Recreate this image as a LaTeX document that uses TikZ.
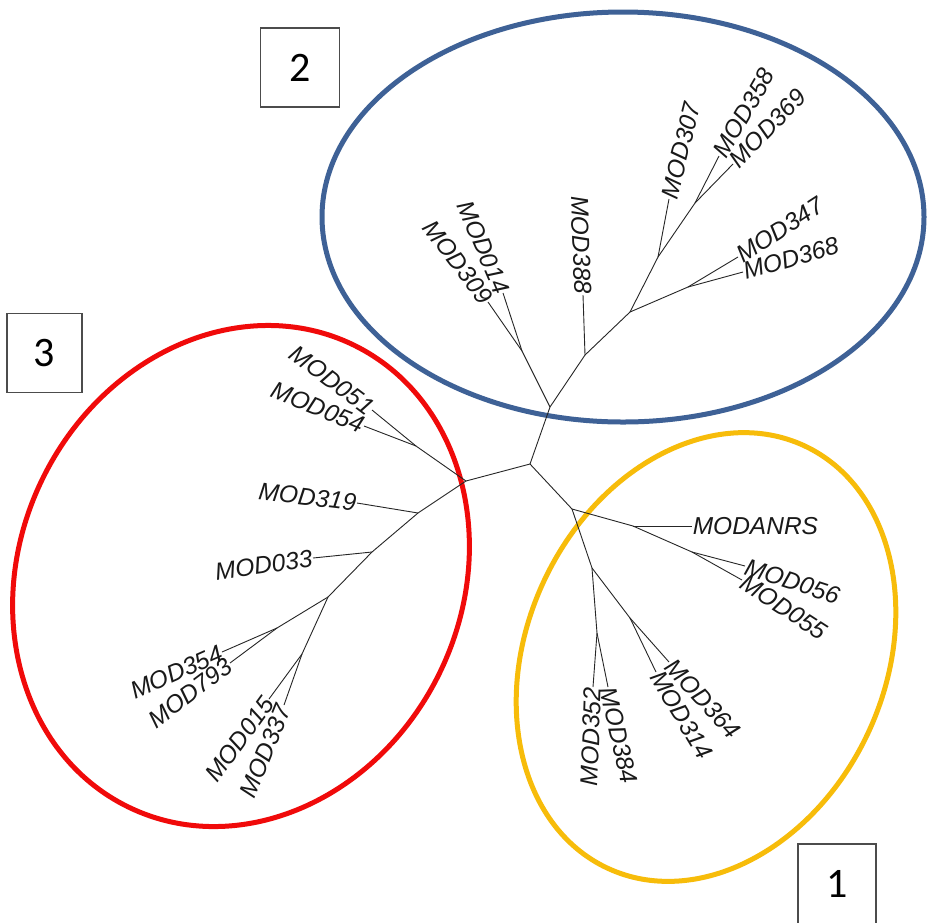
\documentclass[tikz,border=0pt]{standalone}
\usepackage{fontspec}
\setmainfont{Liberation Sans}
\newfontfamily\calib{Carlito}
\definecolor{clblue}{RGB}{62,97,150}
\definecolor{clred}{RGB}{240,10,10}
\definecolor{clgold}{RGB}{247,188,10}
\begin{document}
\begin{tikzpicture}[x=1pt,y=-1pt,
  br/.style={line width=0.9pt, draw=black!85},
  lab/.style={font=\fontsize{24.5}{28}\selectfont\itshape, inner sep=0.6pt, text=black!90},
  labR/.style={lab, anchor=west},
  labL/.style={lab, anchor=east},
  clus/.style={line width=5pt},
  numbox/.style={draw=black!70, line width=1.3pt, minimum width=79pt, minimum height=79pt, inner sep=0pt, font=\fontsize{42}{48}\calib}
]
\useasboundingbox (0,0) rectangle (928,922);
\clip (0,0) rectangle (928,922);
\fill[white] (0,0) rectangle (928,922);

% ---- cluster outlines ----
\draw[clus, draw=clblue] (623,217) ellipse [x radius=301, y radius=205];
\draw[clus, draw=clred, rotate around={-26:(241,576)}] (241,576) ellipse [x radius=221, y radius=257];
\draw[clus, draw=clgold, rotate around={-25:(706,657)}] (706,657) ellipse [x radius=179, y radius=233];

% ---- number boxes ----
\node[numbox] (box2) at (300,67.5) {2};
\node[numbox, minimum width=75pt] (box3) at (44.5,353) {3};
\node[numbox, minimum width=78pt, minimum height=80pt] (box1) at (837,884) {1};

% ---- tree coordinates ----
\coordinate (C) at (530,464);
% blue clade
\coordinate (B0) at (550,407);
\coordinate (B1) at (522,351);
\coordinate (l309) at (488,302);
\coordinate (l014) at (503,293);
\coordinate (B2) at (585,355);
\coordinate (l388) at (583,295);
\coordinate (B3) at (630,312);
\coordinate (B4) at (688,287);
\coordinate (l347) at (738,257);
\coordinate (l368) at (743,272);
\coordinate (B5) at (658,257);
\coordinate (l307) at (669,199);
\coordinate (B6) at (695,203);
\coordinate (l358) at (719,156);
\coordinate (l369) at (733,164);
% red clade
\coordinate (R0) at (466,481);
\coordinate (R1) at (416,446);
\coordinate (l051) at (372,410);
\coordinate (l054) at (364,426);
\coordinate (R2) at (418,513);
\coordinate (l319) at (357,503);
\coordinate (R3) at (372,552);
\coordinate (l033) at (313,558);
\coordinate (R4) at (328,597);
\coordinate (R5) at (277,628);
\coordinate (l354) at (222,652);
\coordinate (l793) at (230,663);
\coordinate (R6) at (302,654);
\coordinate (l015) at (269,699);
\coordinate (l337) at (284,705);
% gold clade
\coordinate (Y0) at (572,509);
\coordinate (Y1) at (633,526);
\coordinate (lanrs) at (692,526);
\coordinate (Y2) at (692,552);
\coordinate (l056) at (745,566);
\coordinate (l055) at (742,580);
\coordinate (Y3) at (592,568);
\coordinate (Y4) at (597,633);
\coordinate (l352) at (593,687);
\coordinate (l384) at (608,687);
\coordinate (Y5) at (630,618);
\coordinate (l364) at (669,662);
\coordinate (l314) at (656,672);

% ---- branches ----
\draw[br] (C) -- (B0);
\draw[br] (C) -- (R0);
\draw[br] (C) -- (Y0);
\draw[br] (B0) -- (B1);
\draw[br] (B1) -- (l309);
\draw[br] (B1) -- (l014);
\draw[br] (B0) -- (B2);
\draw[br] (B2) -- (l388);
\draw[br] (B2) -- (B3);
\draw[br] (B3) -- (B4);
\draw[br] (B4) -- (l347);
\draw[br] (B4) -- (l368);
\draw[br] (B3) -- (B5);
\draw[br] (B5) -- (l307);
\draw[br] (B5) -- (B6);
\draw[br] (B6) -- (l358);
\draw[br] (B6) -- (l369);
\draw[br] (R0) -- (R1);
\draw[br] (R1) -- (l051);
\draw[br] (R1) -- (l054);
\draw[br] (R0) -- (R2);
\draw[br] (R2) -- (l319);
\draw[br] (R2) -- (R3);
\draw[br] (R3) -- (l033);
\draw[br] (R3) -- (R4);
\draw[br] (R4) -- (R5);
\draw[br] (R5) -- (l354);
\draw[br] (R5) -- (l793);
\draw[br] (R4) -- (R6);
\draw[br] (R6) -- (l015);
\draw[br] (R6) -- (l337);
\draw[br] (Y0) -- (Y1);
\draw[br] (Y1) -- (lanrs);
\draw[br] (Y1) -- (Y2);
\draw[br] (Y2) -- (l056);
\draw[br] (Y2) -- (l055);
\draw[br] (Y0) -- (Y3);
\draw[br] (Y3) -- (Y4);
\draw[br] (Y4) -- (l352);
\draw[br] (Y4) -- (l384);
\draw[br] (Y3) -- (Y5);
\draw[br] (Y5) -- (l364);
\draw[br] (Y5) -- (l314);

% ---- labels ----
\node[labL, rotate=-53] (t309) at (l309) {MOD309};
\node[labL, rotate=-67] (t014) at (l014) {MOD014};
\node[labL, rotate=-88] (t388) at (l388) {MOD388};
\node[labR, rotate=76] (t307) at (l307) {MOD307};
\node[labR, rotate=60] (t358) at (l358) {MOD358};
\node[labR, rotate=46] (t369) at (l369) {MOD369};
\node[labR, rotate=33] (t347) at (l347) {MOD347};
\node[labR, rotate=16] (t368) at (l368) {MOD368};
\node[labL, rotate=-37] (t051) at (l051) {MOD051};
\node[labL, rotate=-22] (t054) at (l054) {MOD054};
\node[labL, rotate=-7] (t319) at (l319) {MOD319};
\node[labL, rotate=8] (t033) at (l033) {MOD033};
\node[labL, rotate=24] (t354) at (l354) {MOD354};
\node[labL, rotate=37] (t793) at (l793) {MOD793};
\node[labL, rotate=54] (t015) at (l015) {MOD015};
\node[labL, rotate=68] (t337) at (l337) {MOD337};
\node[labR] (tanrs) at (lanrs) {MODANRS};
\node[labR, rotate=-18] (t056) at (l056) {MOD056};
\node[labR, rotate=-33] (t055) at (l055) {MOD055};
\node[labR, rotate=-47] (t364) at (l364) {MOD364};
\node[labR, rotate=-59] (t314) at (l314) {MOD314};
\node[labR, rotate=-77] (t384) at (l384) {MOD384};
\node[labL, rotate=88] (t352) at (l352) {MOD352};
\end{tikzpicture}
\end{document}
